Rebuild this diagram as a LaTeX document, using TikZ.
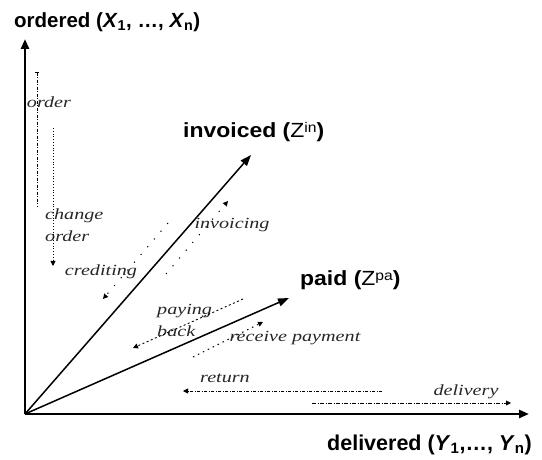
\documentclass[tikz,border=0pt]{standalone}
\usepackage{fontspec}
\setmainfont{Liberation Serif}
\setsansfont{Liberation Sans}
\usetikzlibrary{arrows.meta}
\newcommand\stlab[1]{\scalebox{1.3}[1]{#1}}
\newcommand\stbig[1]{\scalebox{1.12}[1]{#1}}
\newcommand\supr[1]{\raisebox{0.45ex}{\fontsize{14}{14}\selectfont\mdseries #1}}
\begin{document}
\begin{tikzpicture}[x=1pt,y=-1pt,
  axis/.style={line width=2.6pt,-{Triangle[length=10pt,width=8pt]}},
  dimline/.style={line width=1.5pt,-{Triangle[length=11pt,width=8pt]}},
  big/.style={font=\sffamily\bfseries\fontsize{20.5}{22}\selectfont, inner sep=0pt, anchor=west},
  lab/.style={font=\itshape\fontsize{15.5}{22}\selectfont, inner sep=0pt, text=black!85},
  tiny/.style={-{Triangle[length=5pt,width=5pt]}},
  sparse/.style={line width=1pt, dash pattern=on 1.2pt off 9pt},
  dd/.style={line width=0.8pt, dash pattern=on 3pt off 1.5pt on 1pt off 1.5pt},
  dots/.style={line width=0.9pt, dash pattern=on 1pt off 1.8pt},
]
\useasboundingbox (0,0) rectangle (542,460);
% axes
\coordinate (O) at (25,414);
\coordinate (Ytop) at (25,39);
\coordinate (Xend) at (529,414);
\coordinate (Inv) at (251,155);
\coordinate (Paid) at (289,298);
\draw[axis] (O) -- (Ytop);
\draw[axis] (O) -- (Xend);
\draw[dimline] (O) -- (Inv);
\draw[dimline] (O) -- (Paid);
% axis labels
\node[big] (lord) at (14,22) {ordered (\textit{X}\textsubscript{1}, \ldots, \textit{X}\textsubscript{n})};
\node[big,font=\sffamily\bfseries\fontsize{21.5}{22}\selectfont] (ldel) at (327,445) {delivered (\textit{Y}\textsubscript{1},\ldots, \textit{Y}\textsubscript{n})};
\node[big] (linv) at (183,132) {\stbig{invoiced (\textmd{Z}\supr{in})}};
\node[big] (lpaid) at (300,280) {\stbig{paid (\textmd{Z}\supr{pa})}};
% flow labels
\node[lab] (lorder) at (49,102) {\stlab{order}};
\node[lab, align=left, anchor=west] (lchange) at (45,225) {\stlab{change}\\\stlab{order}};
\node[lab] (lcred) at (101,272) {\stlab{crediting}};
\node[lab] (linvoicing) at (232,225) {\stlab{invoicing}};
\node[lab, align=left, anchor=west] (lpayback) at (157,320) {\stlab{paying}\\\stlab{back}};
\node[lab] (lrecv) at (295,338) {\stlab{receive payment}};
\node[lab] (lret) at (225,378) {\stlab{return}};
\node[lab] (ldeliv) at (466,392) {\stlab{delivery}};
% flow connectors
\coordinate (ordA) at (37,72);  \coordinate (ordB) at (37,207);
\draw[dd,{Bar[width=4pt]}-] (ordA) -- (ordB);
\coordinate (chA) at (53,128);  \coordinate (chB) at (53,266);
\draw[dots,tiny] (chA) -- (chB);
\coordinate (ivA) at (166,274); \coordinate (ivB) at (228,201);
\draw[sparse,tiny] (ivA) -- (ivB);
\coordinate (crA) at (168,223); \coordinate (crB) at (103,299);
\draw[sparse,tiny] (crA) -- (crB);
\coordinate (pbA) at (243,299); \coordinate (pbB) at (133,348);
\draw[sparse,dash pattern=on 2pt off 2.5pt,line width=0.9pt,tiny] (pbA) -- (pbB);
\coordinate (rpA) at (193,357); \coordinate (rpB) at (263,322);
\draw[sparse,dash pattern=on 1.5pt off 4pt,line width=0.9pt,tiny] (rpA) -- (rpB);
\coordinate (reA) at (382,391); \coordinate (reB) at (183,391);
\draw[dd,tiny] (reA) -- (reB);
\coordinate (deA) at (312,403); \coordinate (deB) at (511,403);
\draw[dd,dash pattern=on 4pt off 1.5pt on 1pt off 1.5pt,tiny] (deA) -- (deB);
\end{tikzpicture}
\end{document}
